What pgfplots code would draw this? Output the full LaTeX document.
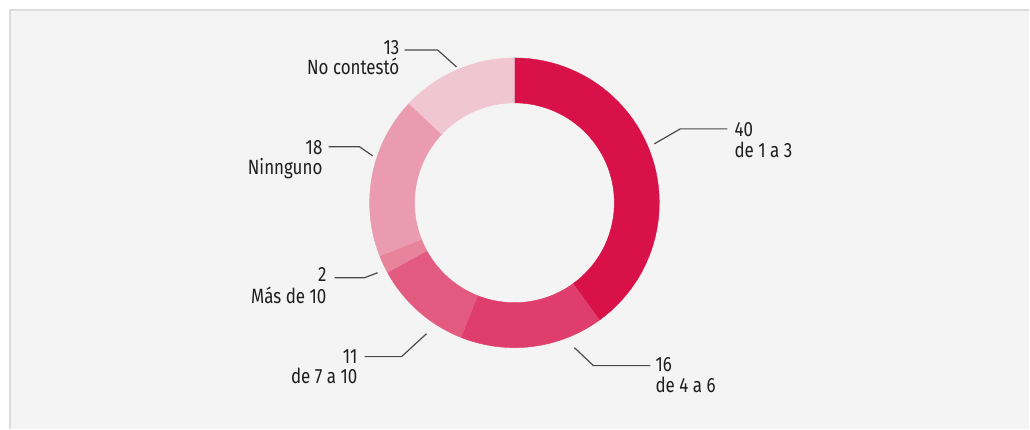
\documentclass[border=0pt]{standalone}
\usepackage{pgfplots}
\pgfplotsset{compat=1.18}
\usepackage{fontspec}
\setmainfont[FakeStretch=0.82]{Fira Sans}
\definecolor{bg}{HTML}{F4F4F4}
\definecolor{frame}{HTML}{DCDCDC}
\definecolor{cA}{HTML}{D81149}
\definecolor{cB}{HTML}{DF3D6B}
\definecolor{cC}{HTML}{E35A80}
\definecolor{cD}{HTML}{E8839C}
\definecolor{cE}{HTML}{EB9BB0}
\definecolor{cF}{HTML}{F0C6D2}
\definecolor{lead}{HTML}{4A4A4A}
\definecolor{txt}{HTML}{1E1E1E}
% slice from cumulative value #1 to #2 (percent), colour #3
% u = 0..50: outer arc forward; u = 51..101: inner arc backward
\newcommand{\slice}[3]{%
  \addplot[fill=#3, draw=#3, line width=0.3pt, samples at={0,1,...,101}, variable=\u]
  ({(\u<=50 ? 145 : 100)*cos(90-3.6*(#1+(#2-#1)*(\u<=50 ? \u/50 : (101-\u)/50)))},
   {(\u<=50 ? 145 : 100)*sin(90-3.6*(#1+(#2-#1)*(\u<=50 ? \u/50 : (101-\u)/50)))});
}
\begin{document}
\begin{tikzpicture}
\begin{axis}[
  hide axis, scale only axis,
  width=772.5pt, height=321.75pt,
  xmin=-515, xmax=515, ymin=-226, ymax=203,
  clip=false,
]
\fill[white] (axis cs:-515,-226) rectangle (axis cs:515,203);
\fill[bg] (axis cs:-506,-226) rectangle (axis cs:515,194);
\draw[frame, line width=1.6pt] (axis cs:-505.3,-226) -- (axis cs:-505.3,193) -- (axis cs:515,193);
% donut slices (values: 40,16,11,2,18,13)
\slice{0}{40}{cA}
\slice{40}{56}{cB}
\slice{56}{67}{cC}
\slice{67}{69}{cD}
\slice{69}{87}{cE}
\slice{87}{100}{cF}
% leader lines
\addplot[lead, line width=0.9pt] coordinates {(140,59) (166,74) (213,74)};
\addplot[lead, line width=0.9pt] coordinates {(60,-145) (79,-163) (136,-163)};
\addplot[lead, line width=0.9pt] coordinates {(-88,-131) (-113,-154) (-150,-154)};
\addplot[lead, line width=0.9pt] coordinates {(-137,-70) (-150,-75) (-180,-75)};
\addplot[lead, line width=0.9pt] coordinates {(-142,47) (-155,56) (-186,56)};
\addplot[lead, line width=0.9pt] coordinates {(-58,136) (-77,153) (-110,153)};
% labels
\tikzset{lab/.style={inner sep=0pt, text=txt, font=\fontsize{15.5pt}{18pt}\selectfont}}
\node[lab, anchor=base west] at (axis cs:220,66) {40};
\node[lab, anchor=base west] at (axis cs:220,45) {de 1 a 3};
\node[lab, anchor=base west] at (axis cs:141,-169) {16};
\node[lab, anchor=base west] at (axis cs:141,-190) {de 4 a 6};
\node[lab, anchor=base east] at (axis cs:-157,-161) {11};
\node[lab, anchor=base east] at (axis cs:-157,-181) {de 7 a 10};
\node[lab, anchor=base east] at (axis cs:-188,-79) {2};
\node[lab, anchor=base east] at (axis cs:-188,-101) {Más de 10};
\node[lab, anchor=base east] at (axis cs:-192,48) {18};
\node[lab, anchor=base east] at (axis cs:-192,28) {Ninnguno};
\node[lab, anchor=base east] at (axis cs:-115,148) {13};
\node[lab, anchor=base east] at (axis cs:-115,128) {No contestó};
\end{axis}
\end{tikzpicture}
\end{document}
